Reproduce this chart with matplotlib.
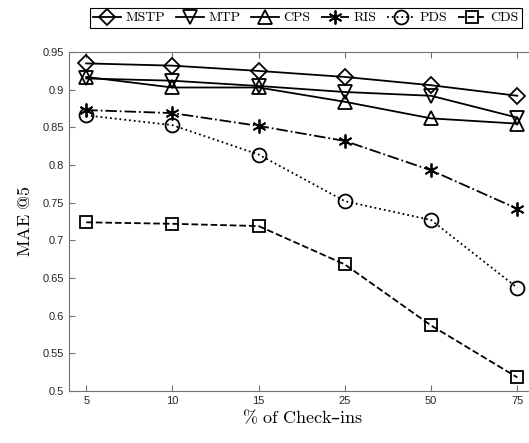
import numpy as np
import matplotlib
matplotlib.use('Agg')
import matplotlib.pyplot as plt

plt.rcParams['mathtext.fontset'] = 'cm'

# Data
checkins = ['5', '10', '15', '25', '50', '75']
mstp = [0.935, 0.932, 0.925, 0.917, 0.906, 0.892]
mtp = [0.915, 0.912, 0.905, 0.897, 0.892, 0.863]
cps = [0.917, 0.903, 0.903, 0.884, 0.862, 0.855]
ris = [0.873, 0.869, 0.852, 0.832, 0.793, 0.742]
pds = [0.866, 0.853, 0.814, 0.752, 0.727, 0.637]
cds = [0.724, 0.722, 0.719, 0.668, 0.587, 0.518]

series = [
    ('MSTP', mstp, 'D', '-', 8),
    ('MTP', mtp, 'v', '-', 10),
    ('CPS', cps, '^', '-', 10),
    ('RIS', ris, (6, 2, 0), '-.', 10),
    ('PDS', pds, 'o', ':', 10),
    ('CDS', cds, 's', '--', 8),
]

fig = plt.figure(figsize=(5.29, 4.43), dpi=100)
# right edge of the axes falls just outside the canvas, as in the reference
ax = fig.add_axes([0.1304, 0.1174, 0.885, 0.765])

x = np.arange(1, len(checkins) + 1)
for name, vals, mk, ls, ms in series:
    ax.plot(x, vals, color='black', linestyle=ls, linewidth=1.3,
            marker=mk, markersize=ms, markerfacecolor='none',
            markeredgecolor='black', markeredgewidth=1.3, label=name)

ax.set_xlim(0.8, 6.23)
ax.set_ylim(0.5, 0.95)
ax.set_xticks(x)
ax.set_xticklabels(checkins)
ax.set_yticks(np.arange(0.5, 0.951, 0.05))
ax.set_yticklabels(['0.5', '0.55', '0.6', '0.65', '0.7', '0.75', '0.8', '0.85', '0.9', '0.95'])

for s in ax.spines.values():
    s.set_color('0.45')
    s.set_linewidth(0.8)
ax.tick_params(direction='in', length=4, width=0.8, color='0.45',
               top=True, right=True, labelsize=8, labelcolor='0.15')
for lab in ax.get_xticklabels() + ax.get_yticklabels():
    lab.set_family('Liberation Sans')

ax.set_xlabel(r'$\%\ \mathrm{of\ Check}$–$\mathrm{ins}$', fontsize=13, labelpad=2)
ax.set_ylabel(r'$\mathrm{MAE\ @5}$', fontsize=13, labelpad=6)

leg = fig.legend(loc='upper center', bbox_to_anchor=(0.578, 0.997), ncol=6,
                 frameon=True, fancybox=False, edgecolor='black', framealpha=1,
                 handlelength=2.0, handletextpad=0.3, columnspacing=0.8,
                 borderpad=0.25, prop={'family': 'cmr10', 'size': 10})
leg.get_frame().set_linewidth(0.8)

fig.savefig('out.png', dpi=100)
